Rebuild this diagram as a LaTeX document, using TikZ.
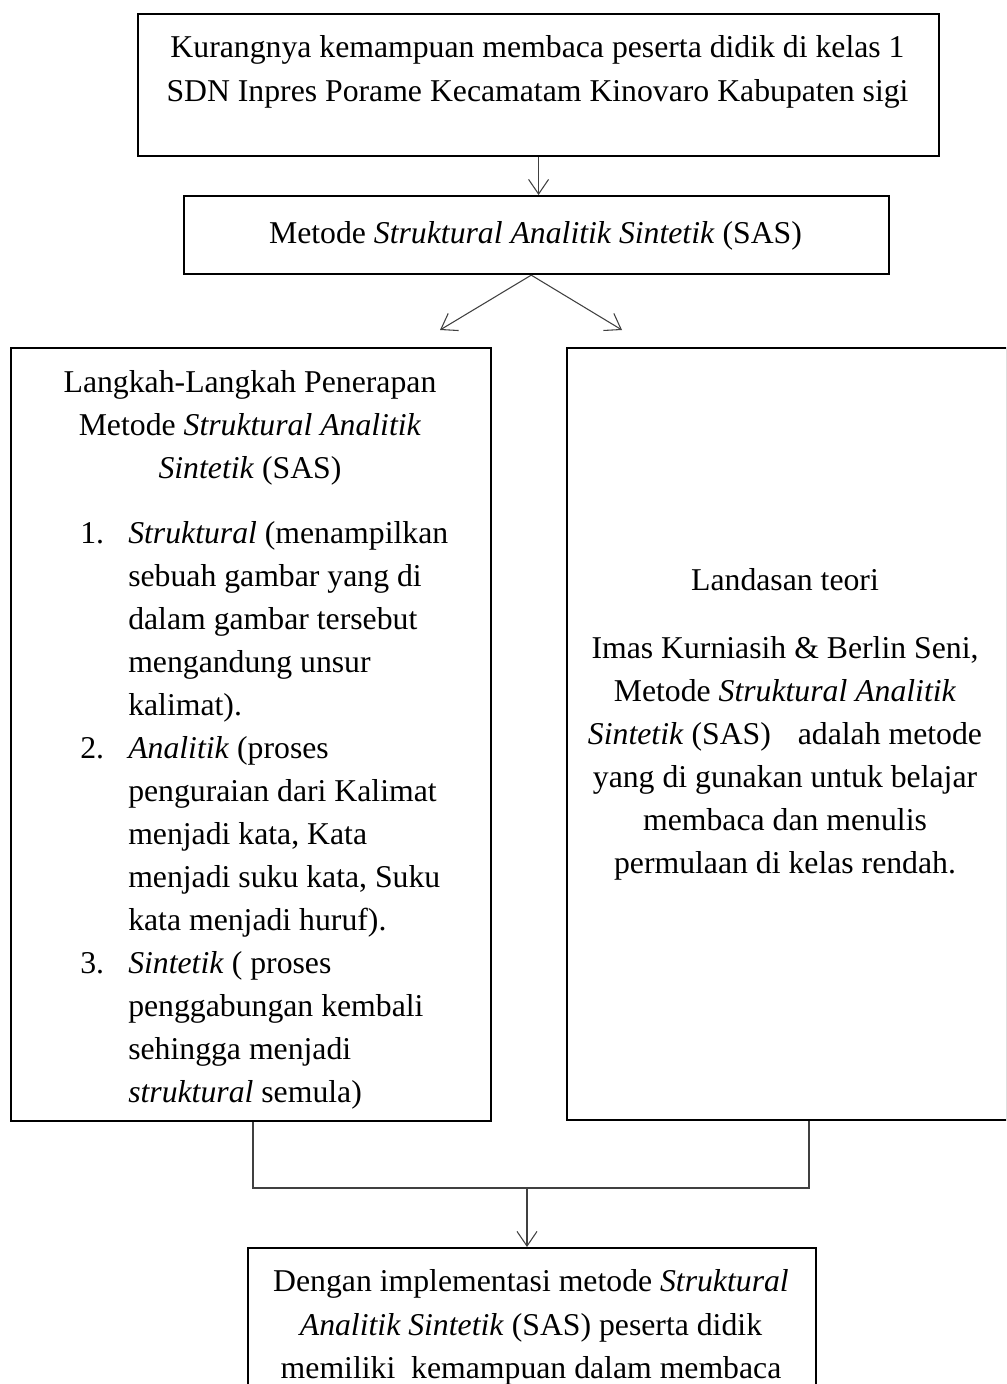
\documentclass[tikz,border=0pt]{standalone}
\usepackage{fontspec}
\setmainfont{Liberation Serif}
\usetikzlibrary{arrows.meta,calc}
\begin{document}
\begin{tikzpicture}[x=0.75pt,y=-0.75pt,
  box/.style={draw, line width=1.6pt, inner sep=0pt, anchor=north west},
  con/.style={draw=black!75, line width=0.8pt},
  arr/.style={con, -{Straight Barb[length=11pt,width=15pt,line width=0.8pt]}},
  txt/.style={font=\fontsize{23.8pt}{32pt}\selectfont, inner sep=0pt, anchor=base},
  ltxt/.style={txt, anchor=base west}]
\useasboundingbox (0,0) rectangle (1006,1384);
\clip (0,0) rectangle (1006,1384);
% boxes
\node[box, minimum width=600.75pt, minimum height=106.5pt] (b1) at (137,13) {};
\node[box, minimum width=528.75pt, minimum height=58.5pt] (b2) at (183,195) {};
\node[box, minimum width=360pt, minimum height=579.75pt] (bl) at (10,347) {};
\node[box, minimum width=330pt, minimum height=579pt] (br) at (566,347) {};
\node[box, minimum width=426pt, minimum height=120pt] (bb) at (247,1247) {};
% texts top
\node[txt] (t1) at (537.5,58) {Kurangnya kemampuan membaca peserta didik di kelas 1};
\node[txt] (t2) at (537.5,102) {SDN Inpres Porame Kecamatam Kinovaro Kabupaten sigi};
\node[txt] (t3) at (535.5,243) {Metode \textit{Struktural Analitik Sintetik} (SAS)};
% left box
\foreach \y/\t [count=\i] in {392/{Langkah-Langkah Penerapan},435/{Metode \textit{Struktural Analitik}},478/{\textit{Sintetik} (SAS)}}
  \node[txt] (lh\i) at (250,\y) {\t};
\foreach \y/\n [count=\i] in {543/1.,758/2.,973/3.}
  \node[ltxt] (ln\i) at (80,\y) {\n};
\foreach \y/\t [count=\i] in {543/{\textit{Struktural} (menampilkan},586/{sebuah gambar yang di},629/{dalam gambar tersebut},672/{mengandung unsur},715/{kalimat).},758/{\textit{Analitik} (proses},801/{penguraian dari Kalimat},844/{menjadi kata, Kata},887/{menjadi suku kata, Suku},930/{kata menjadi huruf).},973/{\textit{Sintetik} ( proses},1016/{penggabungan kembali},1059/{sehingga menjadi},1102/{\textit{struktural} semula)}}
  \node[ltxt] (ll\i) at (128,\y) {\t};
% right box
\foreach \y/\t [count=\i] in {590/{Landasan teori},658/{Imas Kurniasih \& Berlin Seni,},701/{Metode \textit{Struktural Analitik}},744/{\textit{Sintetik} (SAS)\hspace{0.6em} adalah metode},787/{yang di gunakan untuk belajar},830/{membaca dan menulis},873/{permulaan di kelas rendah.}}
  \node[txt] (r\i) at (785,\y) {\t};
% bottom box
\foreach \y/\t [count=\i] in {1291/{Dengan implementasi metode \textit{Struktural}},1335/{\textit{Analitik Sintetik} (SAS) peserta didik},1378/{memiliki\ \ kemampuan dalam membaca}}
  \node[txt] (bt\i) at (531,\y) {\t};
% connectors
\draw[arr] (b1.south) -- (b1.south |- b2.north);
\coordinate (tipL) at (440,330);
\coordinate (tipR) at (622,330);
\draw[arr] ([xshift=-4pt]b2.south) -- (tipL);
\draw[arr] ([xshift=-4pt]b2.south) -- (tipR);
\coordinate (jl) at (253,1188);
\coordinate (jr) at (809,1188);
\coordinate (jm) at (527,1188);
\draw[con] (bl.south -| jl) -- (jl) -- (jr) -- (br.south -| jr);
\draw[arr] (jm) -- (jm |- bb.north);
\end{tikzpicture}
\end{document}
